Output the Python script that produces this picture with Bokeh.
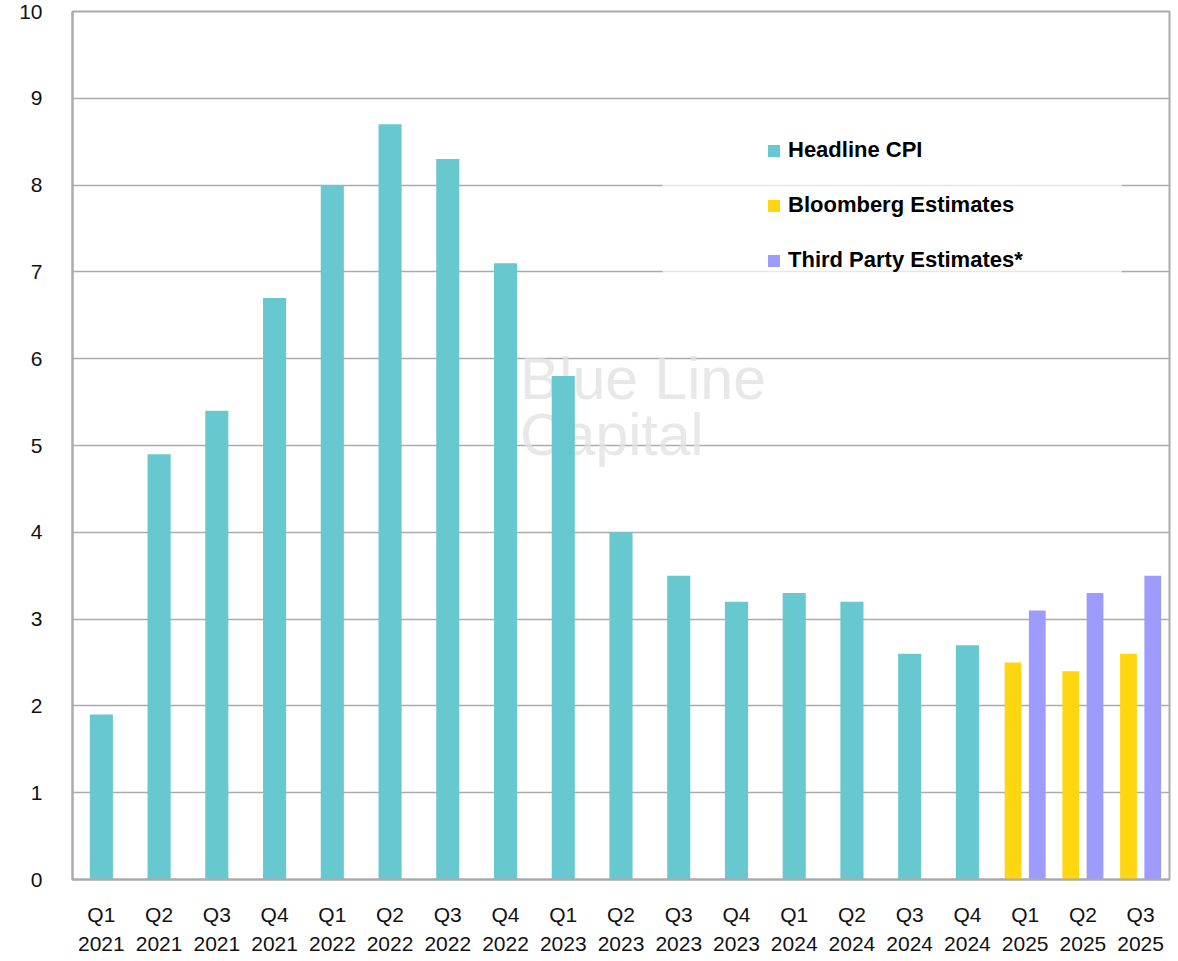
from bokeh.plotting import figure
from bokeh.models import (ColumnDataSource, FactorRange, Legend, LegendItem,
                          BoxAnnotation, Label, SingleIntervalTicker)
from bokeh.transform import dodge
from bokeh.embed import file_html
from bokeh.resources import INLINE

quarters = ["Q1\n2021", "Q2\n2021", "Q3\n2021", "Q4\n2021",
            "Q1\n2022", "Q2\n2022", "Q3\n2022", "Q4\n2022",
            "Q1\n2023", "Q2\n2023", "Q3\n2023", "Q4\n2023",
            "Q1\n2024", "Q2\n2024", "Q3\n2024", "Q4\n2024",
            "Q1\n2025", "Q2\n2025", "Q3\n2025"]
headline_q = quarters[:16]
headline = [1.9, 4.9, 5.4, 6.7, 8.0, 8.7, 8.3, 7.1, 5.8, 4.0, 3.5, 3.2,
            3.3, 3.2, 2.6, 2.7]
estimate_q = quarters[16:]
bloomberg = [2.5, 2.4, 2.6]
third_party = [3.1, 3.3, 3.5]

TEAL = "#67C8CF"
YELLOW = "#FFD60F"
PURPLE = "#9D9CFD"
GRID = "#ababab"
FONT = "Liberation Sans"

p = figure(width=1178, height=961, x_range=FactorRange(*quarters, range_padding=0),
           y_range=(0, 10), output_backend="svg", toolbar_location=None,
           min_border_left=72, min_border_top=11, min_border_right=9,
           min_border_bottom=82)
p.background_fill_color = "white"
p.border_fill_color = "white"
p.outline_line_color = GRID
p.outline_line_width = 2

src_h = ColumnDataSource(dict(q=headline_q, v=headline))
src_e = ColumnDataSource(dict(q=estimate_q, b=bloomberg, t=third_party))

r1 = p.vbar(x="q", top="v", width=0.40, source=src_h, color=TEAL, line_color=None)
r2 = p.vbar(x=dodge("q", -0.21, range=p.x_range), top="b", width=0.29,
            source=src_e, color=YELLOW, line_color=None)
r3 = p.vbar(x=dodge("q", 0.21, range=p.x_range), top="t", width=0.29,
            source=src_e, color=PURPLE, line_color=None)

p.xgrid.grid_line_color = None
p.ygrid.grid_line_color = GRID
p.ygrid.grid_line_width = 1.5
p.yaxis.ticker = SingleIntervalTicker(interval=1)

for ax in (p.xaxis, p.yaxis):
    ax.axis_line_color = GRID
    ax.axis_line_width = 2
    ax.major_tick_line_color = None
    ax.minor_tick_line_color = None
    ax.major_tick_out = 0
    ax.major_tick_in = 0
    ax.major_label_text_font = FONT
    ax.major_label_text_font_size = "21px"
    ax.major_label_text_color = "#111111"
p.yaxis.major_label_standoff = 26
p.xaxis.major_label_standoff = 23
p.xaxis.major_label_text_line_height = 1.3

# faint watermark
wm = Label(x=7.75, y=6.15, text="Blue Line\nCapital", text_font="Liberation Sans",
           text_font_size="59px", text_color="#e2e2e2", text_alpha=0.8,
           text_baseline="top", text_line_height=0.86, level="underlay")
p.add_layout(wm)

# legend background panel
box = BoxAnnotation(left=10.22, right=18.17, bottom=6.95, top=8.8,
                    fill_color="white", fill_alpha=0.7, line_color=None)
p.add_layout(box)

legend = Legend(items=[LegendItem(label="Headline CPI", renderers=[r1]),
                       LegendItem(label="Bloomberg Estimates", renderers=[r2]),
                       LegendItem(label="Third Party Estimates*", renderers=[r3])],
                location=(694, 605), orientation="vertical")
legend.label_text_font = FONT
legend.label_text_font_style = "bold"
legend.label_text_font_size = "22px"
legend.label_text_color = "black"
legend.glyph_width = 15
legend.glyph_height = 15
legend.label_height = 28
legend.label_standoff = 7
legend.spacing = 27
legend.padding = 0
legend.margin = 0
legend.border_line_color = None
legend.background_fill_alpha = 0
p.add_layout(legend)

open("out.html", "w").write(file_html(p, INLINE))
